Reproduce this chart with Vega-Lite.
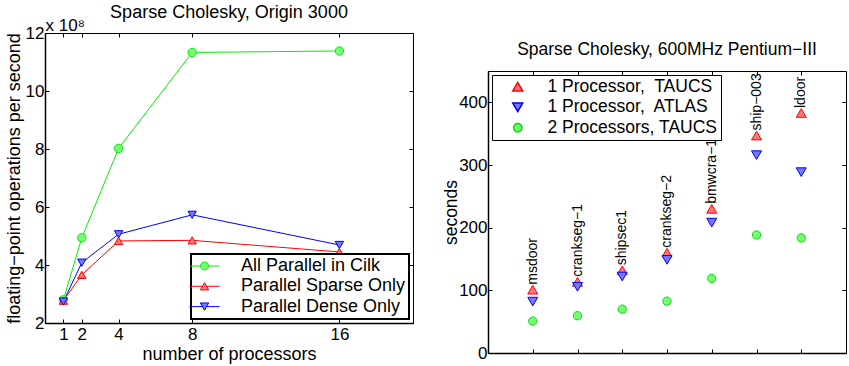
{
  "$schema": "https://vega.github.io/schema/vega-lite/v6.json",
  "background": "white",
  "padding": {"left": 4, "top": 3, "right": 0, "bottom": 0},
  "spacing": 28,
  "resolve": {"scale": {"stroke": "independent", "fill": "independent", "shape": "independent"}, "legend": {"stroke": "independent", "fill": "independent", "shape": "independent"}},
  "config": {
    "view": {"stroke": "black", "strokeWidth": 1},
    "axis": {"grid": false, "domain": false, "tickColor": "black", "tickSize": -4, "tickWidth": 1, "labelColor": "black", "labelFont": "Liberation Sans", "labelFontSize": 17, "titleFont": "Liberation Sans", "titleColor": "black", "titleFontWeight": "normal"},
    "title": {"font": "Liberation Sans", "fontWeight": "normal", "color": "black", "fontSize": 18, "frame": "group"},
    "legend": {"labelFont": "Liberation Sans", "labelColor": "black", "labelLimit": 400}
  },
  "hconcat": [
    {
      "width": 368,
      "height": 290,
      "title": {"text": "Sparse Cholesky, Origin 3000", "fontSize": 18, "offset": -5},
      "data": {"values": [
        {"p": 1, "v": 2.8, "s": "All Parallel in Cilk"},
        {"p": 2, "v": 4.94, "s": "All Parallel in Cilk"},
        {"p": 4, "v": 8.02, "s": "All Parallel in Cilk"},
        {"p": 8, "v": 11.33, "s": "All Parallel in Cilk"},
        {"p": 16, "v": 11.38, "s": "All Parallel in Cilk"},
        {"p": 1, "v": 2.77, "s": "Parallel Sparse Only"},
        {"p": 2, "v": 3.66, "s": "Parallel Sparse Only"},
        {"p": 4, "v": 4.83, "s": "Parallel Sparse Only"},
        {"p": 8, "v": 4.85, "s": "Parallel Sparse Only"},
        {"p": 16, "v": 4.45, "s": "Parallel Sparse Only"},
        {"p": 1, "v": 2.74, "s": "Parallel Dense Only"},
        {"p": 2, "v": 4.08, "s": "Parallel Dense Only"},
        {"p": 4, "v": 5.06, "s": "Parallel Dense Only"},
        {"p": 8, "v": 5.73, "s": "Parallel Dense Only"},
        {"p": 16, "v": 4.69, "s": "Parallel Dense Only"}
      ]},
      "layer": [
        {
          "mark": {"type": "line", "strokeWidth": 1},
          "encoding": {
            "x": {"field": "p", "type": "quantitative", "scale": {"domain": [0, 20]},
              "axis": {"orient": "bottom", "values": [1, 2, 4, 8, 16], "title": "number of processors", "titleFontSize": 18, "labelPadding": 7, "titlePadding": 3, "domain": true, "domainColor": "black", "domainWidth": 1.5}},
            "y": {"field": "v", "type": "quantitative", "scale": {"domain": [2, 12]},
              "axis": {"orient": "left", "values": [2, 4, 6, 8, 10, 12], "title": "floating−point operations per second", "titleFontSize": 18, "labelPadding": 5, "titlePadding": 2, "domain": true, "domainColor": "black", "domainWidth": 1.5}},
            "stroke": {"field": "s", "type": "nominal",
              "scale": {"domain": ["All Parallel in Cilk", "Parallel Sparse Only", "Parallel Dense Only"], "range": ["#00ee00", "#ff0000", "#0000ff"]},
              "legend": {
                "title": null, "orient": "bottom-right", "offset": 4, "padding": 3,
                "fillColor": "white", "strokeColor": "black",
                "symbolSize": 64, "symbolOffset": 1.5, "labelOffset": 27.5,
                "labelFontSize": 18, "rowPadding": 2.3, "symbolStrokeWidth": 1,
                "labelExpr": "datum.label + '\u00a0\u00a0\u00a0\u00a0'",
                "encode": {
                  "legend": {"update": {"strokeWidth": {"value": 2}}},
                  "symbols": {"update": {
                    "shape": {"signal": "datum.value === 'All Parallel in Cilk' ? 'M-3.75,0L-1,0M1,0L3.75,0M1,0A1,1 0 1,1 -1,0A1,1 0 1,1 1,0Z' : datum.value === 'Parallel Sparse Only' ? 'M-3.75,0L-0.52,0M0.52,0L3.75,0M0,-0.91L1.05,0.91L-1.05,0.91Z' : 'M-3.75,0L-0.52,0M0.52,0L3.75,0M0,0.91L1.05,-0.91L-1.05,-0.91Z'"},
                    "fill": {"signal": "datum.value === 'All Parallel in Cilk' ? '#77ff77' : datum.value === 'Parallel Sparse Only' ? '#ff7777' : '#7777ff'"},
                    "stroke": {"signal": "datum.value === 'All Parallel in Cilk' ? '#00ee00' : datum.value === 'Parallel Sparse Only' ? '#ff0000' : '#0000ff'"},
                    "strokeWidth": {"value": 1},
                    "opacity": {"value": 1}
                  }}
                }
              }
            }
          }
        },
        {
          "transform": [{"filter": "datum.s === 'All Parallel in Cilk'"}],
          "mark": {"type": "point", "shape": "circle", "filled": true, "opacity": 1, "fill": "#77ff77", "stroke": "#00ee00", "strokeWidth": 1, "size": 70},
          "encoding": {
            "x": {"field": "p", "type": "quantitative",
              "axis": {"orient": "top", "values": [1, 2, 4, 8, 16], "labels": false, "title": "x 10⁸", "titleFontSize": 17, "titleAnchor": "start", "titleAlign": "left", "titleBaseline": "alphabetic", "titlePadding": 2}},
            "y": {"field": "v", "type": "quantitative",
              "axis": {"orient": "right", "values": [2, 4, 6, 8, 10, 12], "labels": false, "title": null}}
          }
        },
        {
          "transform": [{"filter": "datum.s === 'Parallel Sparse Only'"}],
          "mark": {"type": "point", "shape": "triangle-up", "filled": true, "opacity": 1, "fill": "#ff7777", "stroke": "#ff0000", "strokeWidth": 1, "size": 70},
          "encoding": {
            "x": {"field": "p", "type": "quantitative", "axis": null},
            "y": {"field": "v", "type": "quantitative", "axis": null}
          }
        },
        {
          "transform": [{"filter": "datum.s === 'Parallel Dense Only'"}],
          "mark": {"type": "point", "shape": "triangle-down", "filled": true, "opacity": 1, "fill": "#7777ff", "stroke": "#0000ff", "strokeWidth": 1, "size": 70},
          "encoding": {
            "x": {"field": "p", "type": "quantitative", "axis": null},
            "y": {"field": "v", "type": "quantitative", "axis": null}
          }
        }
      ],
      "resolve": {"axis": {"x": "independent", "y": "independent"}}
    },
    {
      "spacing": 0,
      "resolve": {"scale": {"stroke": "independent", "fill": "independent", "shape": "independent"}, "legend": {"stroke": "independent", "fill": "independent", "shape": "independent"}},
      "vconcat": [
        {
          "width": 358,
          "height": 6,
          "data": {"values": [{}]},
          "mark": {"type": "rect", "opacity": 0},
          "encoding": {},
          "view": {"stroke": "transparent"}
        },
        {
          "width": 358,
          "height": 282,
          "title": {"text": "Sparse Cholesky, 600MHz Pentium−III", "fontSize": 17.5, "offset": 12},
          "data": {"values": [
            {"i": 1, "matrix": "msdoor", "config": "1 Processor, TAUCS", "sec": 101},
            {"i": 1, "matrix": "msdoor", "config": "1 Processor, ATLAS", "sec": 82},
            {"i": 1, "matrix": "msdoor", "config": "2 Processors, TAUCS", "sec": 51},
            {"i": 2, "matrix": "crankseg−1", "config": "1 Processor, TAUCS", "sec": 113.6},
            {"i": 2, "matrix": "crankseg−1", "config": "1 Processor, ATLAS", "sec": 105.6},
            {"i": 2, "matrix": "crankseg−1", "config": "2 Processors, TAUCS", "sec": 59.5},
            {"i": 3, "matrix": "shipsec1", "config": "1 Processor, TAUCS", "sec": 132},
            {"i": 3, "matrix": "shipsec1", "config": "1 Processor, ATLAS", "sec": 122},
            {"i": 3, "matrix": "shipsec1", "config": "2 Processors, TAUCS", "sec": 70},
            {"i": 4, "matrix": "crankseg−2", "config": "1 Processor, TAUCS", "sec": 160},
            {"i": 4, "matrix": "crankseg−2", "config": "1 Processor, ATLAS", "sec": 148.6},
            {"i": 4, "matrix": "crankseg−2", "config": "2 Processors, TAUCS", "sec": 82.7},
            {"i": 5, "matrix": "bmwcra−1", "config": "1 Processor, TAUCS", "sec": 230},
            {"i": 5, "matrix": "bmwcra−1", "config": "1 Processor, ATLAS", "sec": 208},
            {"i": 5, "matrix": "bmwcra−1", "config": "2 Processors, TAUCS", "sec": 119},
            {"i": 6, "matrix": "ship−003", "config": "1 Processor, TAUCS", "sec": 347},
            {"i": 6, "matrix": "ship−003", "config": "1 Processor, ATLAS", "sec": 315.7},
            {"i": 6, "matrix": "ship−003", "config": "2 Processors, TAUCS", "sec": 188.4},
            {"i": 7, "matrix": "ldoor", "config": "1 Processor, TAUCS", "sec": 383},
            {"i": 7, "matrix": "ldoor", "config": "1 Processor, ATLAS", "sec": 288.6},
            {"i": 7, "matrix": "ldoor", "config": "2 Processors, TAUCS", "sec": 183.6}
          ]},
          "layer": [
            {
              "mark": {"type": "point", "filled": true, "opacity": 1, "strokeWidth": 1, "size": 100},
              "encoding": {
                "x": {"field": "i", "type": "quantitative", "scale": {"domain": [0, 8]},
                  "axis": {"orient": "bottom", "values": [1, 2, 3, 4, 5, 6, 7], "labels": false, "title": null, "domain": true, "domainColor": "black", "domainWidth": 1.5}},
                "y": {"field": "sec", "type": "quantitative", "scale": {"domain": [0, 450]},
                  "axis": {"orient": "left", "values": [0, 100, 200, 300, 400], "title": "seconds", "titleFontSize": 17.5, "labelPadding": 5, "titlePadding": -2, "domain": true, "domainColor": "black", "domainWidth": 1.5}},
                "shape": {"field": "config", "type": "nominal",
                  "scale": {"domain": ["1 Processor, TAUCS", "1 Processor, ATLAS", "2 Processors, TAUCS"], "range": ["triangle-up", "triangle-down", "M0.83,0A0.83,0.83 0 1,1 -0.83,0A0.83,0.83 0 1,1 0.83,0Z"]},
                  "legend": {
                    "title": null, "orient": "top-left", "offset": 4, "padding": 3,
                    "fillColor": "white", "strokeColor": "black",
                    "symbolSize": 100, "symbolOffset": 14, "labelOffset": 21,
                    "labelFontSize": 17.5, "rowPadding": 1.5,
                    "labelExpr": "(datum.label === '2 Processors, TAUCS' ? datum.label : replace(datum.label, ', ', ',\u00a0 ')) + '\u00a0\u00a0'",
                    "encode": {
                      "legend": {"update": {"strokeWidth": {"value": 1.5}}},
                      "symbols": {"update": {
                        "fill": {"signal": "datum.value === '2 Processors, TAUCS' ? '#77ff77' : datum.value === '1 Processor, ATLAS' ? '#7777ff' : '#ff7777'"},
                        "stroke": {"signal": "datum.value === '2 Processors, TAUCS' ? '#00dd00' : datum.value === '1 Processor, ATLAS' ? '#0000ff' : '#ff0000'"},
                        "strokeWidth": {"value": 1},
                        "opacity": {"value": 1}
                      }}
                    }
                  }
                },
                "fill": {"field": "config", "type": "nominal",
                  "scale": {"domain": ["1 Processor, TAUCS", "1 Processor, ATLAS", "2 Processors, TAUCS"], "range": ["#ff7777", "#7777ff", "#77ff77"]}, "legend": null},
                "stroke": {"field": "config", "type": "nominal",
                  "scale": {"domain": ["1 Processor, TAUCS", "1 Processor, ATLAS", "2 Processors, TAUCS"], "range": ["#ff0000", "#0000ff", "#00dd00"]}, "legend": null}
              }
            },
            {
              "transform": [{"filter": "datum.config === '1 Processor, TAUCS'"}],
              "mark": {"type": "text", "angle": 270, "align": "left", "baseline": "middle", "dx": 5, "fontSize": 14, "font": "Liberation Sans", "color": "black"},
              "encoding": {
                "x": {"field": "i", "type": "quantitative",
                  "axis": {"orient": "top", "values": [1, 2, 3, 4, 5, 6, 7], "labels": false, "title": null}},
                "y": {"field": "sec", "type": "quantitative",
                  "axis": {"orient": "right", "values": [0, 100, 200, 300, 400], "labels": false, "title": null}},
                "text": {"field": "matrix"}
              }
            }
          ],
          "resolve": {"axis": {"x": "independent", "y": "independent"}}
        }
      ]
    }
  ]
}
